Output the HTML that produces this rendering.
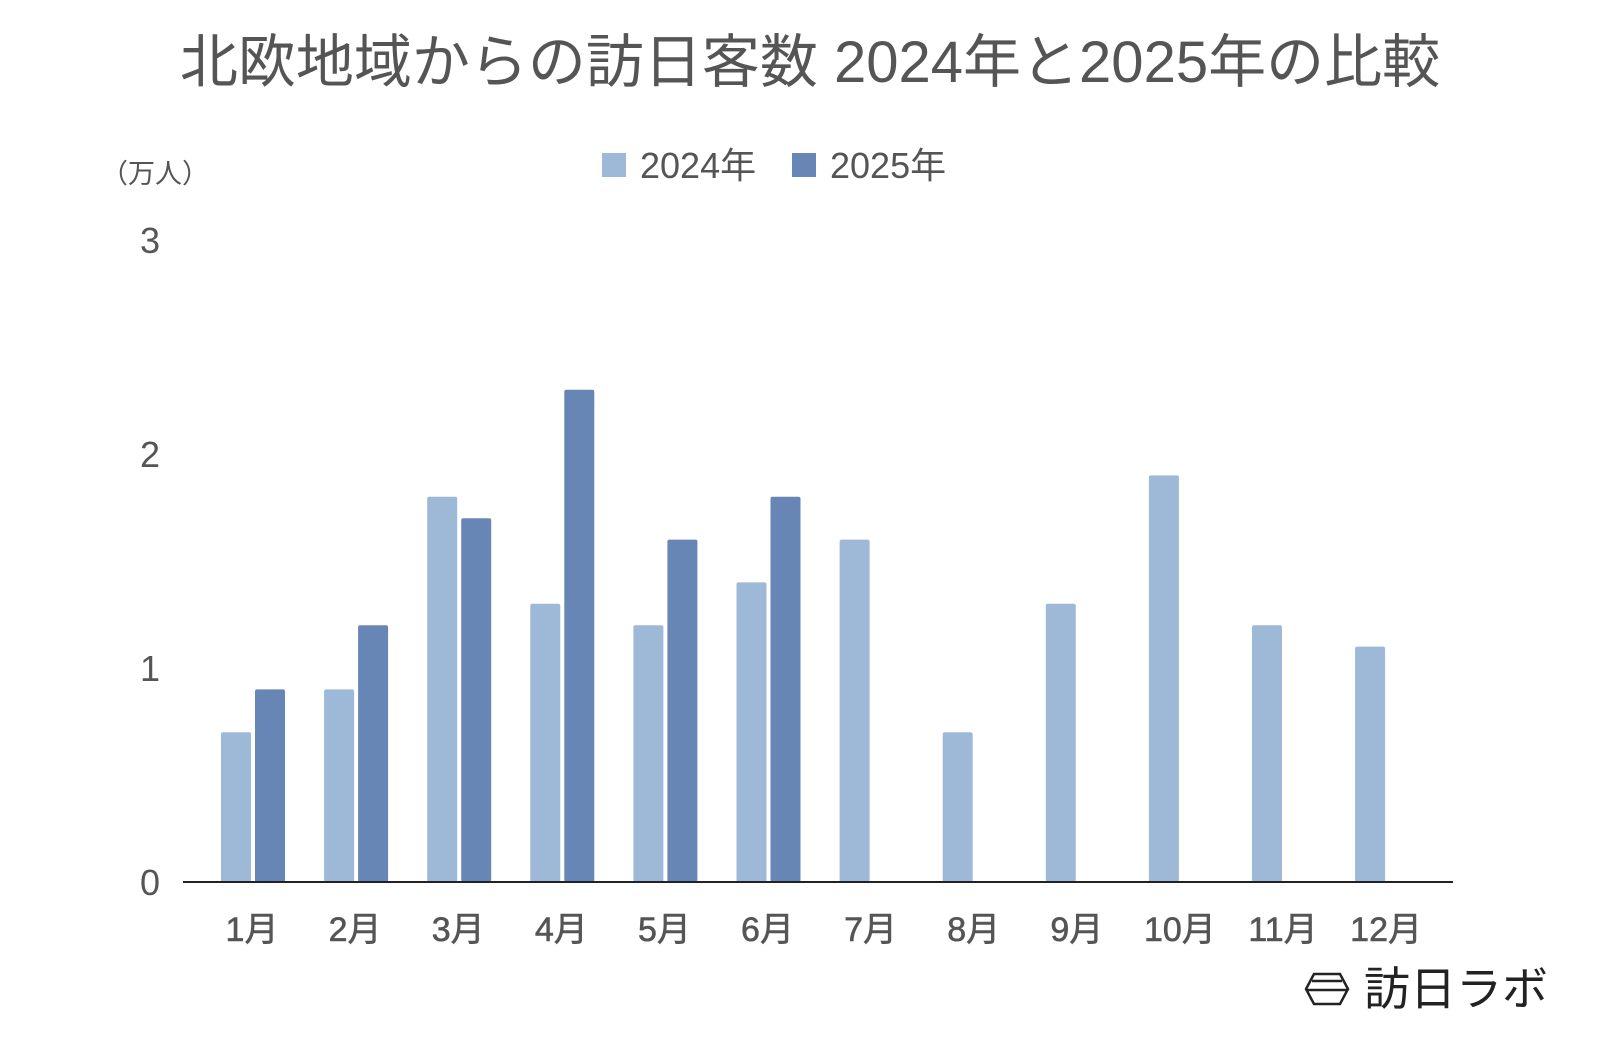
<!DOCTYPE html>
<html><head><meta charset="utf-8"><style>
html,body{margin:0;padding:0;background:#fff;}
body{width:1600px;height:1043px;overflow:hidden;font-family:"Liberation Sans","Noto Sans CJK JP",sans-serif;}
</style></head><body>
<svg width="1600" height="1043" id="chart" style="font-family:'Liberation Sans','Noto Sans CJK JP',sans-serif">
<text x="810" y="82" text-anchor="middle" font-size="58" fill="#555">北欧地域からの訪日客数 2024年と2025年の比較</text>
<rect x="602" y="153" width="24" height="24" fill="#9db9d7"/>
<text x="640" y="178" font-size="36" fill="#555">2024年</text>
<rect x="792" y="153" width="24" height="24" fill="#6786b5"/>
<text x="830" y="178" font-size="36" fill="#555">2025年</text>
<text x="155" y="183" text-anchor="middle" font-size="27" fill="#555">（万人）</text>
<g id="bars"></g><g id="yticks"></g><g id="xticks"></g>
<line x1="183" y1="882" x2="1453" y2="882" stroke="#222" stroke-width="2"/>
<g>
<path d="M1314 974 L1340 974 L1348 989 L1340 1004 L1314 1004 L1306 989 Z M1312 981 L1342 981 M1307 990 L1347 990" fill="none" stroke="#222" stroke-width="2.5"/>
<text x="1364" y="1005" font-size="46" fill="#222">訪日ラボ</text>
</g>
</svg>
<script>
const months=["1月","2月","3月","4月","5月","6月","7月","8月","9月","10月","11月","12月"];
const values2024=[0.7,0.9,1.8,1.3,1.2,1.4,1.6,0.7,1.3,1.9,1.2,1.1];
const values2025=[0.9,1.2,1.7,2.3,1.6,1.8];
const yTicks=[0,1,2,3];
const NS="http://www.w3.org/2000/svg";
const y=v=>882-v*214;
const cx=i=>252+i*103.1;
const bars=document.getElementById('bars');
function bar(i,v,off,color,name){
  const r=document.createElementNS(NS,'rect');
  r.setAttribute('x',cx(i)+off);r.setAttribute('width',30);
  r.setAttribute('y',y(v));r.setAttribute('height',882-y(v));
  r.setAttribute('fill',color);r.setAttribute('rx',2);
  
  
  bars.appendChild(r);
}
values2024.forEach((v,i)=>bar(i,v,-31,'#9db9d7','bar-2024-'+(i+1)));
values2025.forEach((v,i)=>bar(i,v,3,'#6786b5','bar-2025-'+(i+1)));
const yt=document.getElementById('yticks');
yTicks.forEach(t=>{
  const e=document.createElementNS(NS,'text');
  e.setAttribute('x',150);e.setAttribute('y',y(t)+13);
  e.setAttribute('text-anchor','middle');e.setAttribute('font-size',36);e.setAttribute('fill','#555');
  
  
  e.textContent=t;yt.appendChild(e);
});
const xt=document.getElementById('xticks');
months.forEach((m,i)=>{
  const e=document.createElementNS(NS,'text');
  e.setAttribute('x',cx(i));e.setAttribute('y',941);
  e.setAttribute('text-anchor','middle');e.setAttribute('font-size',34);e.setAttribute('fill','#555');
  e.setAttribute('stroke','#555');e.setAttribute('stroke-width','0.6');
  
  
  e.textContent=m;xt.appendChild(e);
});
</script>
</body></html>
